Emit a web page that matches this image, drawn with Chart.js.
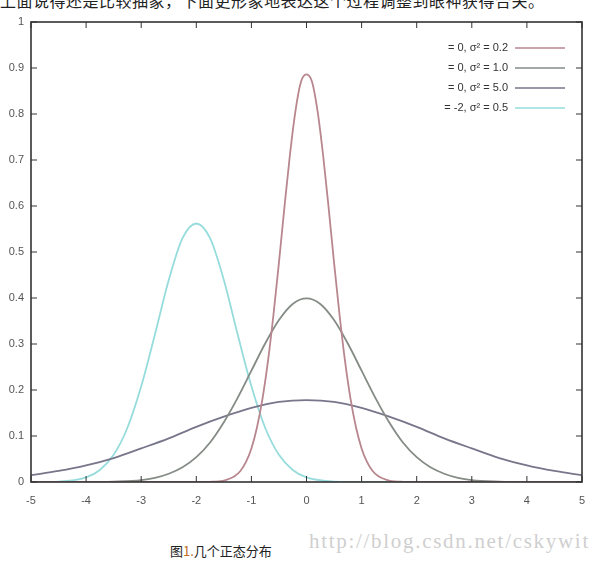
<!DOCTYPE html>
<html>
<head>
<meta charset="utf-8">
<script src="https://cdn.jsdelivr.net/npm/chart.js@4"></script>
<style>
    body { margin: 0; background: #fff; width: 601px; height: 563px; overflow: hidden; position: relative; }
    #topText { position: absolute; left: 0; top: -12px; font: 16px "Noto Sans CJK SC"; color: #222; white-space: nowrap; letter-spacing: 0.5px; }
    #chart { position: absolute; left: 0; top: 0; }
    #caption { position: absolute; left: 170px; top: 541px; font: 13px "Noto Sans CJK SC"; color: #222; }
    #caption span { color: #c07020; }
    #mark { position: absolute; left: 309px; top: 529px; font: 21px "Liberation Serif"; color: #cfcfcf; letter-spacing: 1.7px; }
</style>
</head>
<body>
<div id="topText">上面说得还是比较抽象，下面更形象地表达这个过程调整到眼神获得合关。</div>
<canvas id="chart" width="601" height="520"></canvas>
<div id="caption">图<span>1.</span>几个正态分布</div>
<div id="mark">http://blog.csdn.net/cskywit</div>
<script>
// values
const labels = ['= 0, σ² = 0.2', '= 0, σ² = 1.0', '= 0, σ² = 5.0', '= -2, σ² = 0.5'];
const colors = ['#b8868e', '#858c86', '#77768a', '#97dcdc'];

const xA = [-5, -2, -1.75, -1.5, -1.4, -1.3, -1.2, -1.1, -1, -0.9, -0.8, -0.7, -0.6, -0.5, -0.4, -0.3, -0.2, -0.1, 0,
            0.1, 0.2, 0.3, 0.4, 0.5, 0.6, 0.7, 0.8, 0.9, 1, 1.1, 1.2, 1.3, 1.4, 1.5, 1.75, 2, 5];
const yA = [0, 0, 0.0004, 0.003, 0.007, 0.013, 0.024, 0.043, 0.073, 0.118, 0.180, 0.262, 0.363, 0.477, 0.598, 0.712, 0.807, 0.870, 0.886,
            0.870, 0.807, 0.712, 0.598, 0.477, 0.363, 0.262, 0.180, 0.118, 0.073, 0.043, 0.024, 0.013, 0.007, 0.003, 0.0004, 0, 0];

const xB = [-5, -4, -3.5, -3, -2.75, -2.5, -2.25, -2, -1.75, -1.5, -1.25, -1, -0.75, -0.5, -0.25, 0,
            0.25, 0.5, 0.75, 1, 1.25, 1.5, 1.75, 2, 2.25, 2.5, 2.75, 3, 3.5, 4, 5];
const yB = [0, 0.0001, 0.001, 0.004, 0.009, 0.018, 0.032, 0.054, 0.086, 0.130, 0.183, 0.242, 0.301, 0.352, 0.387, 0.399,
            0.387, 0.352, 0.301, 0.242, 0.183, 0.130, 0.086, 0.054, 0.032, 0.018, 0.009, 0.004, 0.001, 0.0001, 0];

const xC = [-5, -4.5, -4, -3.5, -3, -2.5, -2, -1.5, -1, -0.5, 0, 0.5, 1, 1.5, 2, 2.5, 3, 3.5, 4, 4.5, 5];
const yC = [0.015, 0.024, 0.036, 0.052, 0.073, 0.095, 0.120, 0.142, 0.161, 0.174, 0.178,
            0.174, 0.161, 0.142, 0.120, 0.095, 0.073, 0.052, 0.036, 0.024, 0.015];

const xD = [-5, -4.5, -4, -3.75, -3.5, -3.25, -3, -2.75, -2.5, -2.25, -2, -1.75, -1.5, -1.25, -1, -0.75, -0.5, -0.25, 0, 0.5, 1, 5];
const yD = [0, 0.001, 0.010, 0.026, 0.059, 0.118, 0.208, 0.321, 0.439, 0.530, 0.562, 0.530, 0.439, 0.321, 0.208, 0.118, 0.059, 0.026, 0.010, 0.001, 0, 0];

const series = [[xA, yA], [xB, yB], [xC, yC], [xD, yD]];

const xTicks = [-5, -4, -3, -2, -1, 0, 1, 2, 3, 4, 5];
const yTicks = [0, 0.1, 0.2, 0.3, 0.4, 0.5, 0.6, 0.7, 0.8, 0.9, 1];

const datasets = series.map((s, i) => ({
    label: labels[i],
    data: s[0].map((x, j) => ({ x: x, y: s[1][j] })),
    borderColor: colors[i],
    borderWidth: 1.8,
    pointRadius: 0,
    cubicInterpolationMode: 'monotone',
    fill: false
}));

// gnuplot-like frame with inward ticks, plus legend with text left of the sample line
const framePlugin = {
    id: 'frame',
    afterDatasetsDraw(chart) {
        const { ctx, chartArea: a, scales } = chart;
        ctx.save();
        ctx.strokeStyle = '#333';
        ctx.lineWidth = 1.6;
        ctx.strokeRect(a.left, a.top, a.right - a.left, a.bottom - a.top);
        ctx.lineWidth = 1;
        ctx.beginPath();
        xTicks.forEach(v => {
            const px = scales.x.getPixelForValue(v);
            ctx.moveTo(px, a.bottom); ctx.lineTo(px, a.bottom - 6);
            ctx.moveTo(px, a.top); ctx.lineTo(px, a.top + 6);
        });
        yTicks.forEach(v => {
            const py = scales.y.getPixelForValue(v);
            ctx.moveTo(a.left, py); ctx.lineTo(a.left + 6, py);
            ctx.moveTo(a.right, py); ctx.lineTo(a.right - 6, py);
        });
        ctx.stroke();

        ctx.font = '11px "Liberation Sans"';
        ctx.textAlign = 'right';
        ctx.textBaseline = 'middle';
        labels.forEach((t, i) => {
            const y = 48 + i * 20;
            ctx.fillStyle = '#333';
            ctx.fillText(t, 508, y);
            ctx.strokeStyle = colors[i];
            ctx.lineWidth = 1.6;
            ctx.beginPath();
            ctx.moveTo(515, y); ctx.lineTo(565, y);
            ctx.stroke();
        });
        ctx.restore();
    }
};

new Chart(document.getElementById('chart').getContext('2d'), {
    type: 'line',
    data: { datasets: datasets },
    options: {
        responsive: false,
        animation: false,
        layout: { padding: { top: 22, right: 19, left: 0, bottom: 0 } },
        scales: {
            x: {
                type: 'linear',
                min: -5,
                max: 5,
                afterFit: s => { s.height = 38; },
                afterBuildTicks: s => { s.ticks = xTicks.map(v => ({ value: v })); },
                grid: { display: false, drawTicks: false },
                border: { display: false },
                ticks: { color: '#555', font: { size: 11, family: 'Liberation Sans' }, padding: 12, maxRotation: 0, callback: v => String(v) }
            },
            y: {
                min: 0,
                max: 1,
                afterFit: s => { s.width = 31; },
                afterBuildTicks: s => { s.ticks = yTicks.map(v => ({ value: v })); },
                grid: { display: false, drawTicks: false },
                border: { display: false },
                ticks: { color: '#555', font: { size: 11, family: 'Liberation Sans' }, padding: 7, callback: v => String(v) }
            }
        },
        plugins: {
            legend: { display: false },
            tooltip: { enabled: false }
        }
    },
    plugins: [framePlugin]
});
</script>
</body>
</html>
